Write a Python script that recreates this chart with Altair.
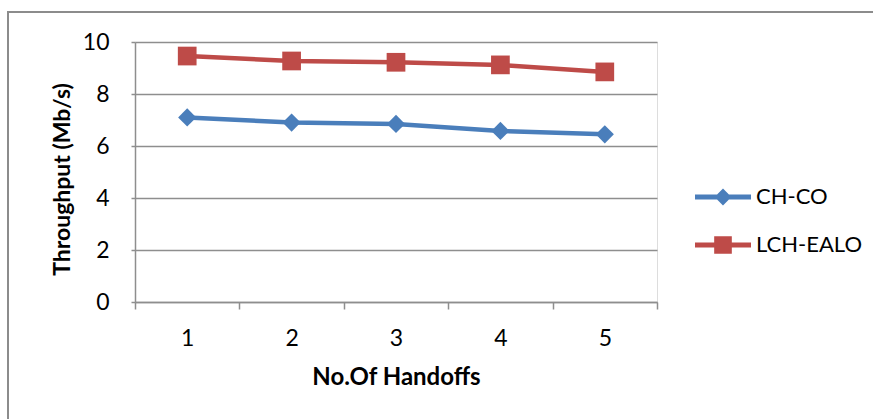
import altair as alt
import pandas as pd

# Throughput vs number of handoffs for the two schemes
handoffs = [1, 2, 3, 4, 5]
series_names = ["CH-CO", "LCH-EALO"]
ch_co = [7.10, 6.90, 6.85, 6.58, 6.45]
lch_ealo = [9.46, 9.27, 9.22, 9.12, 8.85]
series_colors = ["#4A7EBB", "#BE4B48"]
y_ticks = [0, 2, 4, 6, 8, 10]

rows = []
for name, vals in zip(series_names, [ch_co, lch_ealo]):
    for h, v in zip(handoffs, vals):
        rows.append({"handoffs": h, "series": name, "throughput": v})
df = pd.DataFrame(rows)

FONT = "Lato"
GRID = "#8E8E8E"
LABEL_SIZE = 23
TITLE_SIZE = 24

# legend glyphs: a line segment with the series marker in the middle (unit coords)
seg = "M-1,-0.085H1V0.085H-1Z"
legend_paths = [
    seg + " M0,-0.3L0.3,0L0,0.3L-0.3,0Z",
    seg + " M-0.315,-0.315H0.315V0.315H-0.315Z",
]

color_scale = alt.Scale(domain=series_names, range=series_colors)

x_enc = alt.X(
    "handoffs:O",
    scale=alt.Scale(type="band", paddingInner=0, paddingOuter=0),
    axis=alt.Axis(
        title="No.Of Handoffs",
        tickBand="extent",
        labelAngle=0,
        grid=False,
        domainColor=GRID,
        domainWidth=1.5,
        tickColor=GRID,
        tickWidth=1.5,
        tickSize=7,
        labelFont=FONT,
        labelFontSize=LABEL_SIZE,
        labelColor="#000000",
        labelPadding=18,
        titleFont=FONT,
        titleFontSize=TITLE_SIZE,
        titleFontWeight="bold",
        titleColor="#000000",
        titlePadding=15,
    ),
)
y_enc = alt.Y(
    "throughput:Q",
    scale=alt.Scale(domain=[0, 10], nice=False),
    axis=alt.Axis(
        title="Throughput (Mb/s)",
        values=y_ticks,
        grid=True,
        gridColor=GRID,
        gridWidth=1.5,
        domainColor=GRID,
        domainWidth=1.5,
        tickColor=GRID,
        tickWidth=1.5,
        tickSize=4,
        labelFont=FONT,
        labelFontSize=LABEL_SIZE,
        labelColor="#000000",
        labelPadding=22,
        titleFont=FONT,
        titleFontSize=23,
        titleFontWeight="bold",
        titleColor="#000000",
        titleX=-61,
        titleY=137,
        titleAngle=270,
        titleAlign="center",
        titleBaseline="bottom",
    ),
)

base = alt.Chart(df)

frame = alt.Chart(alt.Data(values=[{}])).mark_rect(
    fill="transparent", stroke="#8C8C8C", strokeWidth=2
).encode(
    x=alt.value(-127), x2=alt.value(760), y=alt.value(-30), y2=alt.value(430)
)

lines = base.mark_line(strokeWidth=4.5).encode(
    x=x_enc,
    y=y_enc,
    color=alt.Color("series:N", scale=color_scale, legend=None),
)

diamonds = base.transform_filter(alt.datum.series == "CH-CO").mark_point(
    shape="diamond", filled=True, opacity=1, size=330
).encode(x=x_enc, y=y_enc, color=alt.Color("series:N", scale=color_scale, legend=None))

squares = base.transform_filter(alt.datum.series == "LCH-EALO").mark_point(
    shape="square", filled=True, opacity=1, size=350
).encode(x=x_enc, y=y_enc, color=alt.Color("series:N", scale=color_scale, legend=None))

leg = alt.Legend(
    title=None,
    orient="none",
    legendX=560,
    legendY=142,
    padding=0,
    labelFont=FONT,
    labelFontSize=22,
    labelColor="#000000",
    labelOffset=5,
    symbolSize=3136,
    symbolStrokeWidth=0,
    symbolOpacity=1,
    clipHeight=26,
    rowPadding=22,
)

# legend entries come from the shared colour domain; this layer draws no marks itself
legend_layer = base.transform_filter("false").mark_point(
    filled=True, opacity=1, size=3136
).encode(
    color=alt.Color("series:N", scale=color_scale, legend=leg),
    shape=alt.Shape("series:N", scale=alt.Scale(domain=series_names, range=legend_paths), legend=leg),
)

chart = alt.layer(frame, lines, diamonds, squares, legend_layer).resolve_legend(
    color="independent", shape="independent"
).properties(
    width=522,
    height=260,
    autosize=alt.AutoSizeParams(type="none"),
    padding={"left": 135, "top": 42, "right": 216, "bottom": 117},
).configure_view(stroke=None).configure(background="#FFFFFF")

chart.save("out.html", embed_options={"renderer": "svg", "actions": False})
